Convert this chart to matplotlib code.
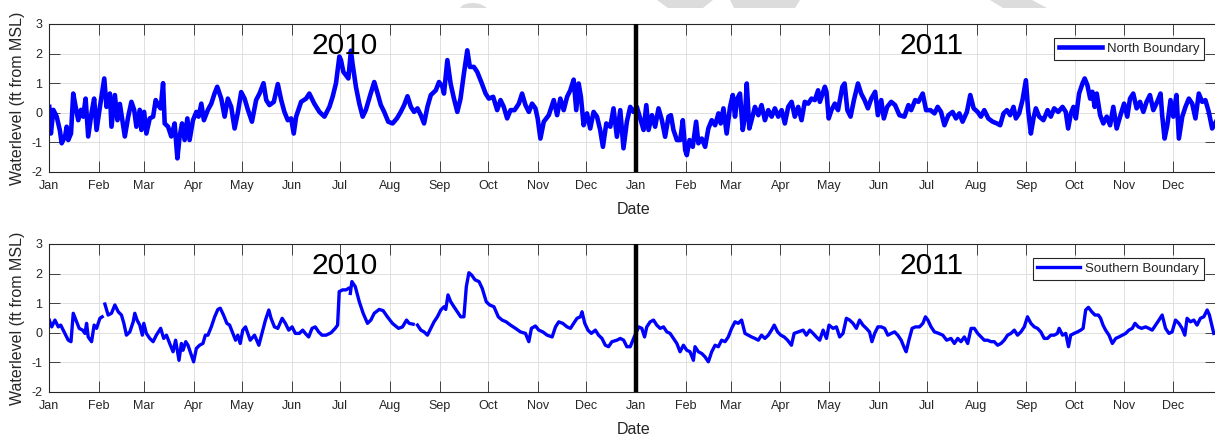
import numpy as np
import pandas as pd
import matplotlib
matplotlib.use('Agg')
import matplotlib.pyplot as plt
import matplotlib.dates as mdates
from matplotlib.patches import Polygon

plt.rcParams['font.family'] = ['Liberation Sans', 'DejaVu Sans']
plt.rcParams['axes.unicode_minus'] = False

# days since 2010-01-01 and water level (ft from MSL)
north_day = [0, 1, 2.5, 4.6, 6.6, 7.7, 9.8, 10.8, 11.8, 13.5, 14.9, 16.4, 18.0, 19.7, 21.1, 22.6, 24.2, 26.3, 27.9, 29.4,
             31.5, 34.2, 35.6, 37.7, 38.7, 40.8, 42.4, 43.9, 47.0, 49.1, 51.1, 52.8, 54.2, 56.3, 57.3, 59.0, 60.4, 62.5,
             64.6, 66.2, 67.7, 69.3, 70.8, 71.8, 73.9, 75.9, 78.0, 79.7, 81.1, 82.6, 84.2, 85.9, 87.3, 89.4, 91.5, 92.9,
             94.6, 96.2, 98.7, 100.8, 102.8, 104.5, 107.0, 109.1, 111.1, 113.2, 115.3, 117.3, 119.4,
             121.5, 123.6, 126.1, 128.7, 130.8, 133.3, 135.0, 137.0, 139.7, 142.2, 144.3, 146.3, 148.4, 150.5, 152.1,
             153.6, 156.7, 159.8, 161.8, 164.9, 168.1, 171.2, 174.3, 176.3, 178.4, 180.5, 181.5, 183.0, 184.6, 186.1,
             187.7, 188.7, 190.8, 192.9, 195.0, 197.0, 199.7, 202.2, 204.3, 206.3, 208.4, 210.9, 213.6, 216.3, 218.7,
             220.8, 222.9, 225.0, 227.0, 229.1, 231.2, 233.2, 235.3, 237.4, 240.5, 242.5, 244.6,
             245.6, 247.7, 249.7, 251.8, 253.9, 255.9, 258.0, 260.1, 261.7, 264.2, 266.3, 268.8, 271.5, 273.5, 276.2,
             278.7, 280.8, 282.8, 284.9, 287.0, 289.5, 292.2, 294.2, 296.3, 298.4, 300.4, 302.5, 303.9, 305.6, 307.7,
             310.8, 313.9, 316.0, 318.0, 320.1, 322.2, 324.2, 326.3, 327.9, 329.4, 330.8, 332.5, 334.6, 336.6, 338.7,
             340.8, 342.8, 344.5, 346.6, 349.1, 351.1, 353.2, 355.3, 357.3, 359.4, 361.5, 363.5, 365.6,
             369.8, 371.5, 372.9, 375.0, 377.0, 379.1, 381.2, 383.2, 385.3, 386.8, 388.4, 390.5, 392.6, 394.2, 395.7,
             396.7, 398.4, 400.4, 402.5, 403.9, 406.0, 408.1, 410.1, 412.2, 414.3, 416.4, 417.8, 419.5, 421.5, 423.6,
             425.3, 426.7, 428.1, 429.8, 431.5, 432.9, 434.0, 435.6, 437.0, 439.1, 441.2, 443.2, 445.3, 447.4, 449.5,
             451.5, 453.6, 455.7, 457.7, 459.8, 461.9, 463.9, 466.0, 468.1, 470.1, 472.2, 474.3, 476.4, 478.4, 479.5,
             482.6, 483.6, 485.0, 486.7, 488.8, 490.8, 493.5,
             494.9, 496.6, 498.6, 500.7, 503.2, 505.2, 507.3, 509.4, 511.5, 513.9, 515.6, 517.7, 519.3, 521.4, 523.9,
             526.3, 529.0, 532.1, 534.6, 536.3, 538.8, 540.8, 543.5, 545.6, 548.3, 550.8, 552.8, 554.9, 557.0, 559.5,
             562.1, 564.2, 566.3, 568.3, 571.0, 573.1, 575.2, 577.7, 579.7, 581.8, 584.3, 587.0, 589.7, 591.7, 593.8,
             595.9, 597.9, 600.0, 601.5, 603.5, 605.6, 607.7, 609.1, 610.8, 612.4, 613.9, 616.0, 618.6,
             619.1, 621.2, 623.2, 625.3, 627.8, 630.5, 632.5, 634.0, 635.7, 637.3, 638.8, 640.8, 642.9, 644.3, 646.0,
             647.7, 649.1, 650.5, 651.8, 653.9, 655.9, 658.0, 660.1, 662.1, 664.2, 666.3, 668.8, 670.8, 672.5, 674.5,
             676.6, 678.7, 680.8, 682.8, 684.9, 687.0, 689.4, 691.5, 692.5, 694.0, 695.7, 697.7, 699.4, 701.4, 702.9,
             705.0, 707.0, 709.1, 711.2, 713.2, 715.3, 717.4, 719.4, 721.5, 723.6, 726.0]
north_ft = [0.2, -0.7, 0.1, -0.13, -0.6, -1.03, -0.8, -0.47, -0.92, -0.7, 0.65, 0.2, -0.25, 0.1, -0.13, 0.48, -0.8, 0.0,
            0.48, -0.58, 0.2, 1.16, 0.2, 0.65, -0.47, 0.6, -0.25, 0.3, -0.8, -0.13, 0.37, 0.1, -0.47, 0.1, -0.58, 0.03,
            -0.7, -0.19, -0.13, 0.43, 0.26, 0.15, 1.0, -0.36, -0.47, -0.8, -0.36, -1.54, -0.8, -0.36, -0.92, -0.19,
            -0.92, -0.25, 0.03, -0.13, 0.31, -0.25, 0.1, 0.31, 0.65, 0.88, 0.48, -0.13, 0.48, 0.2, -0.53, 0.0, 0.7,
            0.48, 0.1, -0.3, 0.43, 0.65, 1.0, 0.43, 0.26, 0.37, 0.97, 0.43, 0.03, -0.25, -0.19, -0.7,
            -0.13, 0.37, 0.48, 0.65, 0.31, 0.03, -0.13, 0.2, 0.54, 1.0, 1.9, 1.78, 1.38, 1.27, 1.16,
            2.1, 1.66, 0.88, 0.31, -0.13, 0.1, 0.6, 1.04, 0.65, 0.26, 0.03, -0.3, -0.36, -0.19, 0.03,
            0.26, 0.56, 0.2, 0.03, 0.15, -0.08, -0.36, 0.2, 0.6, 0.76, 1.04, 0.88,
            0.65, 1.78, 0.99, 0.48, 0.03, 0.48, 1.33, 2.11, 1.55, 1.55, 1.38, 1.04, 0.65, 0.48, 0.54,
            0.09, 0.43, 0.2, -0.19, 0.09, 0.09, 0.31, 0.65, 0.26, 0.03, 0.31, 0.15, -0.19, -0.87, -0.3,
            -0.08, 0.43, -0.08, 0.48, 0.09, 0.54, 0.76, 1.12, 0.09, 0.99, 0.54, -0.42, -0.02, -0.53, 0.03,
            -0.13, -0.58, -1.15, -0.36, -0.47, 0.15, -0.81, 0.09, -1.2, -0.3, 0.2, 0.03, 0.2,
            -0.58, 0.26, -0.58, -0.08, -0.47, 0.15, -0.25, -0.81, -0.13, -0.08, -0.58, -0.92, -0.92, -0.25, -1.26,
            -1.43, -0.92, -1.15, -0.3, -1.03, -0.87, -1.15, -0.53, -0.25, -0.42, -0.02, -0.36, 0.15, -0.7, 0.2,
            0.6, -0.13, 0.48, 0.65, -0.58, -0.13, 0.99, -0.53, -0.25, 0.2, -0.08, 0.26, -0.25, 0.09, -0.13,
            0.15, -0.13, 0.09, -0.36, 0.2, 0.37, -0.13, 0.2, -0.25, 0.37, 0.31, 0.48, 0.43, 0.76, 0.37,
            0.88, 0.71, -0.19, 0.09, 0.31, 0.09, 0.88,
            0.99, 0.09, -0.13, 0.43, 0.99, 0.65, 0.43, 0.15, 0.48, 0.71, -0.08, 0.43, -0.19, 0.2, 0.37,
            0.26, -0.08, -0.13, 0.26, 0.09, 0.43, 0.37, 0.65, 0.09, 0.09, -0.02, 0.2, 0.03, -0.42, -0.08,
            0.03, -0.19, -0.02, -0.3, 0.03, 0.6, 0.15, 0.03, -0.13, 0.09, -0.19, -0.3, -0.36, -0.42, -0.02,
            0.09, -0.08, 0.2, -0.19, -0.02, 0.43, 1.1, 0.09, -0.7, -0.19, 0.15, -0.13, -0.25,
            -0.19, 0.09, -0.13, 0.15, 0.03, 0.2, 0.03, -0.53, -0.02, 0.2, -0.19, 0.65, 0.99, 1.16, 0.93,
            0.48, 0.71, 0.2, 0.65, -0.08, -0.36, -0.13, -0.42, 0.2, -0.53, -0.13, 0.31, -0.13, 0.48, 0.65,
            0.15, 0.37, 0.03, 0.37, 0.6, 0.09, 0.37, 0.65, -0.08, -0.87, -0.42, 0.43, -0.13, 0.6, -0.87,
            -0.13, 0.2, 0.48, 0.31, -0.19, 0.65, 0.37, 0.43, 0.03, -0.53, -0.3]

south_day = [0, 1.5, 3.5, 5.6, 7.1, 9.7, 11.8, 13.5, 14.9, 16.6, 18.6, 20.7, 22.2, 23.2, 24.2, 26.3, 27.9, 29.4, 31.5,
             32.9, 33.7, 34.6, 36.6, 38.7, 40.8, 42.9, 44.9, 46.4, 48.0, 50.1, 52.2, 53.2, 54.6, 56.3, 57.9, 58.8, 60.4,
             62.5, 64.6, 66.6, 69.3, 71.2, 72.9, 74.9, 77.0, 78.6, 80.7, 82.2, 83.2, 84.9, 86.3, 88.4, 89.8, 91.5, 93.5,
             95.6, 97.1, 98.7, 100.8, 102.9, 104.9, 106.4, 108.4, 110.5, 112.2, 114.2, 115.9, 117.3, 118.8, 120.4,
             122.1, 123.5, 125.0, 127.7, 130.4, 132.9, 134.5, 136.6, 138.0, 140.1, 142.2, 144.9, 146.9, 149.0, 151.1,
             153.1, 155.6, 157.7, 159.3, 161.4, 163.5, 165.5, 167.6, 169.7, 172.2, 175.3, 177.9, 179.4, 180.4, 182.5,
             184.6, 186.2, 186.8, 187.3, 188.3, 190.4, 192.9, 195.3, 198.0, 200.1, 202.2, 205.3, 207.7, 210.4, 213.5,
             217.3, 219.8, 222.3, 223.9, 226.4, 227.6, 229.1, 231.2, 233.2, 235.3, 237.4, 239.4, 241.5, 243.6, 245.6,
             246.7, 248.1, 249.8, 251.8, 253.9, 256.0, 258.0, 259.5, 261.1, 262.8, 264.9, 267.4, 269.4, 271.9, 274.0,
             276.7, 279.4, 281.8, 284.3, 287.0, 290.1, 293.2, 296.3, 298.4, 300.0, 302.5, 304.6, 307.1, 309.8, 312.9,
             315.0, 317.0, 319.5, 322.2, 324.3, 326.3, 328.4, 330.5, 331.5, 333.2, 335.2, 337.3, 339.8, 341.8, 343.9,
             346.0, 348.0, 350.1, 353.2, 355.3, 357.4, 359.4, 361.5, 363.6, 366.7, 368.7, 370.4, 371.8, 373.9, 376.0,
             378.0, 380.1, 382.2, 384.3, 386.3, 388.4, 390.5, 392.5, 394.6, 396.7, 398.7, 400.8, 401.8, 403.9, 406.0,
             408.0, 410.1, 412.2, 414.3, 416.3, 418.4, 420.5, 422.5, 424.6, 426.7, 428.7, 430.8, 432.9, 435.0, 437.0,
             439.1, 441.2, 443.2, 445.3, 447.4, 449.4, 451.1, 453.2, 455.2, 457.3, 459.4, 461.8, 463.5, 466.0,
             469.1, 471.1, 473.2, 475.3, 477.3, 479.4, 481.5, 483.6, 485.2, 487.7, 489.8, 491.8, 493.9, 496.0, 498.0,
             500.1, 502.2, 504.2, 506.3, 508.4, 510.4, 511.9, 513.6, 515.6, 517.7, 519.8, 521.8, 523.9, 526.0, 528.0,
             530.1, 532.2, 533.2, 534.9, 536.9, 539.0, 541.5, 543.6, 545.2, 546.7, 548.7, 550.8, 553.5, 556.0, 558.4,
             561.1, 563.2, 565.3, 567.3, 569.4, 571.5, 573.6, 575.6, 577.7, 579.8, 581.8, 583.9, 586.0, 588.0, 590.1,
             592.2, 594.2, 596.3, 598.4, 600.5, 602.5, 604.6, 606.7, 608.7, 610.8, 612.9, 614.9, 617.0, 619.1, 621.1,
             623.2, 625.3, 627.3, 628.4, 630.5, 632.5, 634.2, 635.6, 637.7, 639.8, 641.8, 643.3, 644.9, 646.6, 648.7,
             650.7, 652.8, 654.2, 655.7, 657.3, 659.4, 661.5, 663.6, 665.6, 667.7, 669.8, 671.8, 673.9, 675.6, 677.6,
             679.7, 682.2, 684.2, 686.3, 688.4, 690.5, 692.5, 694.6, 696.7, 698.7, 700.8, 702.9, 704.9, 706.6, 708.0,
             710.1, 712.2, 714.2, 716.3, 718.4, 720.5, 721.9, 723.6, 724.6]
south_ft = [0.43, 0.2, 0.43, 0.2, 0.26, -0.02, -0.25, -0.3, 0.66, 0.43, 0.15, 0.09, -0.02, 0.32, -0.14, -0.3, 0.26, 0.15,
            0.49, 0.54, np.nan, 0.97, 0.6, 0.66, 0.94, 0.71, 0.6, 0.32, -0.08, 0.03, 0.37, 0.66, 0.43, 0.26, -0.08,
            0.32, -0.02, -0.19, -0.3, -0.08, 0.15, -0.19, -0.08, -0.36, -0.64, -0.25, -0.93, -0.36, -0.59, -0.3, -0.42,
            -0.76, -0.98, -0.53, -0.42, -0.36, -0.08, -0.08, 0.2, 0.54, 0.79, 0.83, 0.6, 0.32, 0.26, -0.02, -0.25,
            -0.08, -0.36, 0.09, 0.2, -0.02, -0.25, -0.08, -0.42, 0.09, 0.43, 0.77, 0.49, 0.2, 0.15, 0.49, 0.32, 0.09,
            0.2, -0.02, -0.02, 0.09, -0.02, -0.14, 0.15, 0.2, 0.03, -0.08, -0.08, 0.0, 0.15, 0.26, 1.39, 1.45, 1.45,
            1.5, np.nan, 1.33, 1.73, 1.56, 1.05, 0.66, 0.32, 0.43, 0.66, 0.79, 0.75, 0.54, 0.32, 0.15, 0.2, 0.43, 0.32,
            0.29, np.nan, 0.26, 0.09, 0.03, -0.08, 0.15, 0.37, 0.54, 0.77, 0.88, 0.79, 1.28, 1.05, 0.88, 0.71, 0.54,
            0.54, 1.56, 2.03, 1.95, 1.79, 1.73, 1.5, 1.05, 0.94, 0.88, 0.54, 0.43, 0.37, 0.26, 0.15, 0.03, -0.02,
            -0.3, 0.15, 0.23, 0.09, 0.03, -0.08, -0.14, 0.2, 0.37, 0.32, 0.2, 0.15, 0.32, 0.49, 0.54, 0.71, 0.32,
            0.09, -0.02, 0.09, -0.08, -0.19, -0.42, -0.47, -0.3, -0.25, -0.19, -0.25, -0.47, -0.47, -0.19, 0.2, 0.15,
            -0.14, 0.2, 0.37, 0.43, 0.26, 0.15, 0.2, 0.03, -0.02, -0.19, -0.36, -0.64, -0.42, -0.59, -0.64, -0.93,
            -0.47, -0.64, -0.7, -0.81, -0.98, -0.64, -0.42, -0.47, -0.25, -0.3, -0.14, 0.15, 0.37, 0.32, 0.43, -0.02,
            -0.08, -0.14, -0.19, -0.25, -0.08, -0.19, -0.08, 0.09, 0.26, 0.03, -0.08, -0.14, -0.25, -0.42, -0.02, 0.03,
            0.09, -0.08, 0.09, -0.02, -0.14, -0.25, 0.09, -0.19, 0.26, 0.15, 0.2, -0.14, -0.02, 0.49, 0.43,
            0.32, 0.15, 0.43, 0.26, 0.15, 0.03, -0.3, -0.02, 0.2, 0.2, 0.15, -0.08, -0.02, 0.03, -0.08,
            -0.25, -0.53, -0.64, -0.25, 0.15, 0.2, 0.2, 0.32, 0.54, 0.43, 0.2, 0.03, -0.02, -0.08, -0.25,
            -0.19, -0.36, -0.19, -0.3, -0.14, -0.36, 0.15, 0.15, -0.02, -0.14, -0.25, -0.25, -0.3, -0.3, -0.42,
            -0.36, -0.25, -0.08, -0.02, 0.09, -0.08, 0.03, 0.2, 0.54, 0.32, 0.2, 0.15, 0.03, -0.19, -0.19,
            -0.08, -0.08, -0.02, 0.15, -0.08, -0.02, -0.47, -0.08, -0.02, 0.03, 0.09, 0.15, 0.77, 0.86, 0.71,
            0.6, 0.6, 0.49, 0.26, 0.09, -0.08, -0.36, -0.19, -0.14, -0.08, -0.02, 0.09, 0.15, 0.32, 0.2,
            0.15, 0.2, 0.15, 0.09, 0.26, 0.43, 0.6, 0.15, -0.02, 0.03, 0.43, 0.32, 0.15, -0.08, 0.49,
            0.37, 0.43, 0.26, 0.49, 0.54, 0.77, 0.6, 0.2, -0.02]

series = [
    (north_day, north_ft, 'North Boundary', 3.3),
    (south_day, south_ft, 'Southern Boundary', 2.4),
]
year_labels = ['2010', '2011']
y_ticks = [-2, -1, 0, 1, 2, 3]

start = pd.Timestamp('2010-01-01')
split = pd.Timestamp('2011-01-01')
end = start + pd.Timedelta(days=726)
dark = (0.15, 0.15, 0.15)

W, H = 1215, 438
fig = plt.figure(figsize=(W / 100, H / 100), dpi=100)

# faint gray shapes along the top edge
shapes = [
    [(460, 8), (463, 5), (468, 3.3), (474, 3), (480, 4), (485, 6.5), (487, 8)],
    [(657, 0), (713, 0), (703, 8), (668, 8)],
    [(730, 0), (800, 0), (795, 8), (734, 8)],
    [(990, 0), (1032, 0), (1047, 8), (1003, 8)],
]
for pts in shapes:
    fig.patches.append(Polygon([(x / W, 1 - y / H) for x, y in pts], closed=True,
                               transform=fig.transFigure, facecolor='#dcdcdc',
                               edgecolor='none', zorder=0))

left = 49.3 / W
width = (1216 - 49.3) / W
tops = [24, 244]

for (days, vals, name, lw), top in zip(series, tops):
    ax = fig.add_axes([left, 1 - (top + 148) / H, width, 148 / H])
    dates = start + pd.to_timedelta(np.array(days, dtype=float), unit='D')
    ax.plot(dates, vals, color='b', lw=lw, label=name, solid_joinstyle='round', zorder=2)
    ax.axvline(split, color='k', lw=3.2, zorder=3)

    ax.set_xlim(start, end)
    ax.set_ylim(-2, 3)
    ax.set_yticks(y_ticks)
    ax.xaxis.set_major_locator(mdates.MonthLocator())
    ax.xaxis.set_major_formatter(mdates.DateFormatter('%b'))

    ax.grid(True, color=(0.86, 0.86, 0.86), lw=0.6)
    ax.set_axisbelow(True)
    for s in ax.spines.values():
        s.set_color(dark)
        s.set_linewidth(0.8)
    ax.tick_params(direction='in', length=8, width=0.6, top=True, right=True,
                   color=dark, labelcolor=dark, labelsize=9)
    ax.tick_params(axis='x', pad=6)
    ax.tick_params(axis='y', pad=5)

    ax.set_xlabel('Date', fontsize=11.5, color=dark)
    ax.xaxis.set_label_coords(0.501, -0.2)
    ax.set_ylabel('Waterlevel (ft from MSL)', fontsize=11.5, color=dark)
    ax.yaxis.set_label_coords(-0.021, 0.5)

    ax.text(0.2535, 0.851, year_labels[0], transform=ax.transAxes, fontsize=21.5,
            ha='center', va='center', color='k')
    ax.text(0.756, 0.851, year_labels[1], transform=ax.transAxes, fontsize=21.5,
            ha='center', va='center', color='k')

    leg = ax.legend(loc='upper right', bbox_to_anchor=(0.9897, 0.905), borderaxespad=0,
                    fontsize=9.5, handlelength=3.25, handletextpad=0.4, borderpad=0.35,
                    fancybox=False, framealpha=1, edgecolor=dark)
    leg.get_frame().set_linewidth(0.8)
    for t in leg.get_texts():
        t.set_color(dark)

fig.savefig('out.png', dpi=100)
